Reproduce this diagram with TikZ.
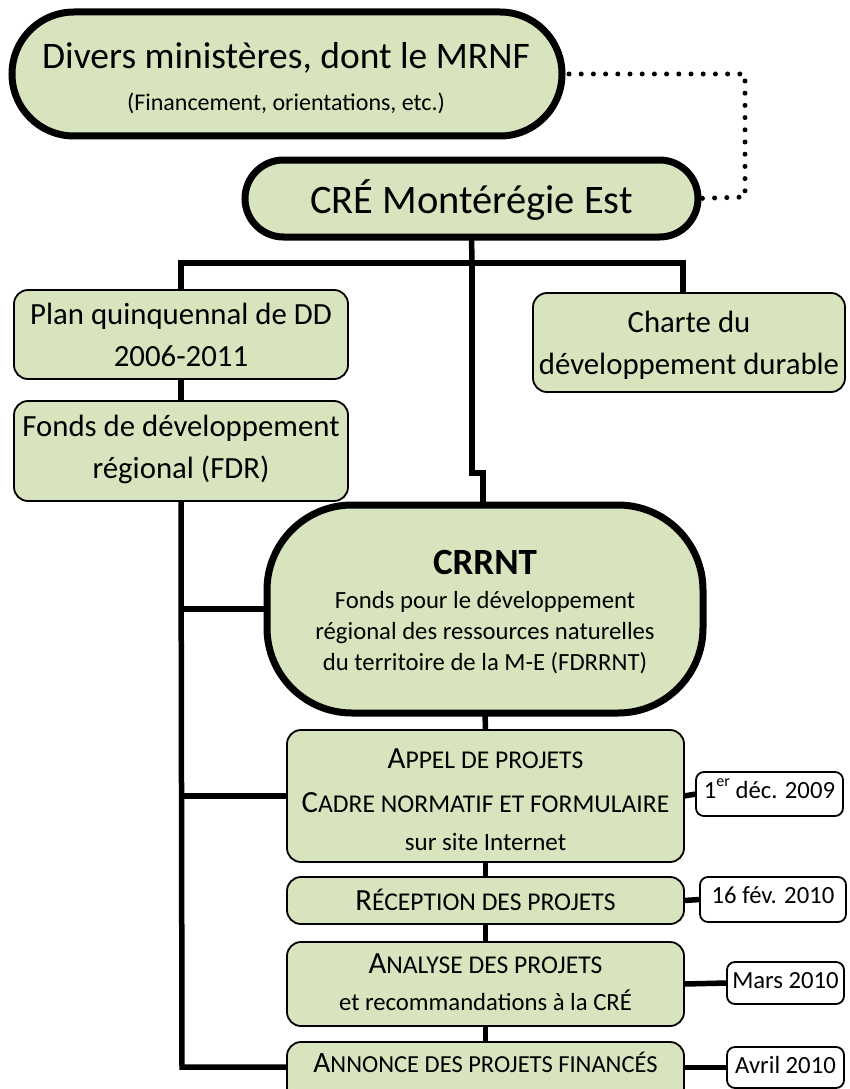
\documentclass[tikz,border=0pt]{standalone}
\usepackage{fontspec}
\setmainfont{Carlito}
\usetikzlibrary{shapes.misc}
\definecolor{boxgreen}{HTML}{D7E4BD}
\newcommand\FS[1]{\fontsize{#1}{#1}\selectfont}
\newcommand\SCap[2]{{\FS{30.8}#1}{\FS{25.6}#2}}
\newcommand\SCapS[2]{{\FS{29.5}#1}{\FS{24.5}#2}}
\begin{document}
\begin{tikzpicture}[x=1pt,y=-1pt,
  every node/.style={inner sep=0pt, outer sep=0pt},
  bigstad/.style={draw=black, line width=7pt, fill=boxgreen, rounded rectangle},
  bigbox/.style={draw=black, line width=7pt, fill=boxgreen, rounded corners=85pt},
  greenbox/.style={draw=black, line width=1.8pt, fill=boxgreen, rounded corners=14pt},
  stepbox/.style={draw=black, line width=1.8pt, fill=boxgreen, rounded corners=14pt},
  datebox/.style={draw=black, line width=1.8pt, fill=white, rounded corners=8pt},
  txt/.style={anchor=base, text=black},
  link/.style={draw=black, line width=5.5pt},
  dots/.style={draw=black, line width=5pt, line cap=round, dash pattern=on 0pt off 12.2pt},
]
\useasboundingbox (0,0) rectangle (850,1089);
% boxes
\node[bigstad, minimum width=550pt, minimum height=124pt] (top) at (287,74) {};
\node[bigstad, minimum width=453pt, minimum height=77pt] (cre) at (471.5,198.5) {};
\node[greenbox, minimum width=334pt, minimum height=89pt] (plan) at (181,334.5) {};
\node[greenbox, minimum width=334pt, minimum height=100pt] (fdr) at (181,451) {};
\node[greenbox, minimum width=312pt, minimum height=99pt] (charte) at (689,342.5) {};
\node[bigbox, minimum width=436pt, minimum height=208pt] (crrnt) at (485,609) {};
\node[stepbox, minimum width=397pt, minimum height=132pt] (appel) at (485.5,796) {};
\node[stepbox, minimum width=397pt, minimum height=47pt] (recep) at (485.5,900.5) {};
\node[stepbox, minimum width=397pt, minimum height=84pt] (analyse) at (485.5,984) {};
\node[stepbox, minimum width=397pt, minimum height=60pt] (annonce) at (485.5,1072) {};
\node[datebox, minimum width=147pt, minimum height=44pt] (d1) at (769.5,794) {};
\node[datebox, minimum width=146pt, minimum height=45pt] (d2) at (773,899.5) {};
\node[datebox, minimum width=117pt, minimum height=42pt] (d3) at (785.5,983) {};
\node[datebox, minimum width=117pt, minimum height=41pt] (d4) at (785.5,1067.5) {};
% connectors
\coordinate (c1) at (745,74);
\coordinate (c2) at (745,197);
\draw[dots, shorten <=7pt] (top.east) -- (c1) -- (c2) -- (cre.east);
\coordinate (j1) at (472,263);
\coordinate (jr) at (683,263);
\coordinate (k1) at (472,473);
\coordinate (k2) at (483,473);
\coordinate (bl) at (182,1067);
\draw[link] (cre.south) -- (j1);
\draw[link] (plan.north) -- (plan.north |- j1) -- (jr) -- (jr |- charte.north);
\draw[link] (j1) -- (k1) -- (k2) -- (k2 |- crrnt.north);
\draw[link] (plan.south) -- (fdr.north);
\draw[link] (fdr.south) -- (bl) -- (bl -| annonce.west);
\draw[link] (fdr.south |- crrnt.west) -- (crrnt.west);
\draw[link] (fdr.south |- appel.west) -- (appel.west);
\draw[link] (crrnt.south) -- (appel.north);
\draw[link] (appel.south) -- (recep.north);
\draw[link] (recep.south) -- (analyse.north);
\draw[link] (analyse.south) -- (annonce.north);
\draw[link] (appel.east) -- (d1.west);
\draw[link] (recep.east) -- (d2.west);
\draw[link] (analyse.east) -- (d3.west);
\draw[link] (d4.west -| annonce.east) -- (d4.west);
% texts
\node[txt, font=\FS{37.5}] (t1) at (286,68.5) {Divers ministères, dont le MRNF};
\node[txt, font=\FS{24}] (t2) at (286,110.5) {(Financement, orientations, etc.)};
\node[txt, font=\FS{40.5}] (t3) at (471.5,213) {CRÉ Montérégie Est};
\node[txt, font=\FS{30.8}] (t4) at (181,324) {Plan quinquennal de DD};
\node[txt, font=\FS{30.8}] (t5) at (181,366) {2006-2011};
\node[txt, font=\FS{30.8}] (t6) at (181,436) {Fonds de développement};
\node[txt, font=\FS{30.8}] (t7) at (181,478) {régional (FDR)};
\node[txt, font=\FS{30.8}] (t8) at (689,332) {Charte du};
\node[txt, font=\FS{30.8}] (t9) at (689,374) {développement durable};
\node[txt, font=\FS{37}\bfseries] (t10) at (485,574) {CRRNT};
\node[txt, font=\FS{24.7}] (t11) at (485,608) {Fonds pour le développement};
\node[txt, font=\FS{24.7}] (t12) at (485,639) {régional des ressources naturelles};
\node[txt, font=\FS{24.7}] (t13) at (485,670) {du territoire de la M-E (FDRRNT)};
\node[txt] (t14) at (485.5,768) {\SCap{A}{PPEL DE PROJETS}};
\node[txt] (t15) at (485.5,812) {\SCap{C}{ADRE NORMATIF ET FORMULAIRE}};
\node[txt, font=\FS{25}] (t16) at (485.5,850) {sur site Internet};
\node[txt] (t17) at (485.5,910) {\SCap{R}{ÉCEPTION DES PROJETS}};
\node[txt] (t18) at (485.5,973) {\SCap{A}{NALYSE DES PROJETS}};
\node[txt, font=\FS{24.7}] (t19) at (485.5,1010) {et recommandations à la CRÉ};
\node[txt] (t20) at (485.5,1072) {\SCapS{A}{NNONCE DES PROJETS FINANCÉS}};
\node[txt, font=\FS{24.7}] (t21) at (769.5,798) {1\raisebox{0.45em}{\FS{16}er} déc. 2009};
\node[txt, font=\FS{24.7}] (t22) at (773,903) {16 fév. 2010};
\node[txt, font=\FS{24.7}] (t23) at (785.5,988) {Mars 2010};
\node[txt, font=\FS{24.7}] (t24) at (785.5,1073) {Avril 2010};
\end{tikzpicture}
\end{document}
